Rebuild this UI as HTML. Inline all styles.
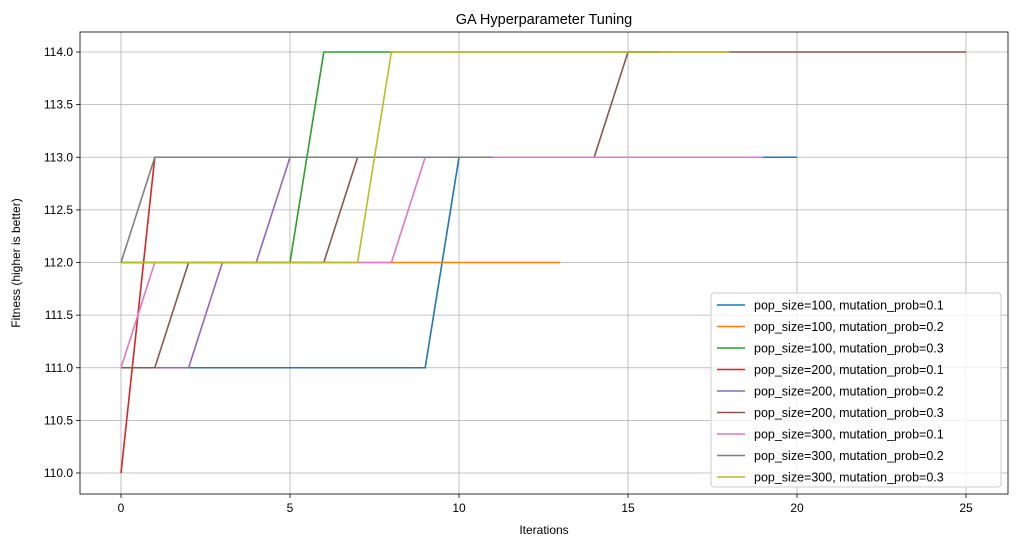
<!DOCTYPE html>
<html><head><meta charset="utf-8"><style>
body{margin:0;background:#fff;font-family:"Liberation Sans","DejaVu Sans",sans-serif;}
</style></head><body>
<svg id="chart" width="1019" height="547" xmlns="http://www.w3.org/2000/svg" font-family="Liberation Sans, DejaVu Sans, sans-serif"></svg>
<script>
const labels=["pop_size=100, mutation_prob=0.1","pop_size=100, mutation_prob=0.2","pop_size=100, mutation_prob=0.3","pop_size=200, mutation_prob=0.1","pop_size=200, mutation_prob=0.2","pop_size=200, mutation_prob=0.3","pop_size=300, mutation_prob=0.1","pop_size=300, mutation_prob=0.2","pop_size=300, mutation_prob=0.3"];
const colors=["#1f77b4","#ff7f0e","#2ca02c","#d62728","#9467bd","#8c564b","#e377c2","#7f7f7f","#bcbd22"];
const s1=[111,111,111,111,111,111,111,111,111,111,113,113,113,113,113,113,113,113,113,113,113];
const s2=[112,112,112,112,112,112,112,112,112,112,112,112,112,112];
const s3=[112,112,112,112,112,112,114,114,114,114,114,114,114,114,114,114,114];
const s4=[110,113,113,113,113,113,113,113,113,113,113];
const s5=[111,111,111,112,112,113,113,113,113,113,113,113,113];
const s6=[111,111,112,112,112,112,112,113,113,113,113,113,113,113,113,114,114,114,114,114,114,114,114,114,114,114];
const s7=[111,112,112,112,112,112,112,112,112,113,113,113,113,113,113,113,113,113,113,113];
const s8=[112,113,113,113,113,113,113,113,113,113,113,113];
const s9=[112,112,112,112,112,112,112,112,114,114,114,114,114,114,114,114,114,114,114];
const series=[s1,s2,s3,s4,s5,s6,s7,s8,s9];
const xTicks=[0,5,10,15,20,25];
const yTicks=[110.0,110.5,111.0,111.5,112.0,112.5,113.0,113.5,114.0];
const L=80,R=1008,T=32,B=494;
const X=v=>121+v*33.8;
const Y=v=>473-(v-110)*105.25;
const svg=document.getElementById('chart');
const NS="http://www.w3.org/2000/svg";
function mk(tag,attrs,parent){const e=document.createElementNS(NS,tag);for(const k in attrs)e.setAttribute(k,attrs[k]);(parent||svg).appendChild(e);return e;}
mk('rect',{x:0,y:0,width:1019,height:547,fill:'#fff'});
const grid=mk('g',{});


xTicks.forEach(t=>{mk('line',{x1:X(t),x2:X(t),y1:T,y2:B,stroke:'#b0b0b0','stroke-width':0.8},grid);
 mk('line',{x1:X(t),x2:X(t),y1:B,y2:B+4,stroke:'#000','stroke-width':0.8});
 const tx=mk('text',{x:X(t),y:B+18,'text-anchor':'middle','font-size':12,fill:'#000'});tx.textContent=t;
 
 });
yTicks.forEach(t=>{mk('line',{x1:L,x2:R,y1:Y(t),y2:Y(t),stroke:'#b0b0b0','stroke-width':0.8},grid);
 mk('line',{x1:L-4,x2:L,y1:Y(t),y2:Y(t),stroke:'#000','stroke-width':0.8});
 const tx=mk('text',{x:L-7,y:Y(t)+4,'text-anchor':'end','font-size':12,fill:'#000'});tx.textContent=t.toFixed(1);
 
 });
series.forEach((s,i)=>{const p=mk('polyline',{points:s.map((v,j)=>X(j)+','+Y(v)).join(' '),fill:'none',stroke:colors[i],'stroke-width':1.6});
 
 });
mk('rect',{x:L,y:T,width:R-L,height:B-T,fill:'none',stroke:'#000','stroke-width':0.8});
let t=mk('text',{x:(L+R)/2,y:24,'text-anchor':'middle','font-size':14.5});t.textContent='GA Hyperparameter Tuning';


t=mk('text',{x:(L+R)/2,y:534,'text-anchor':'middle','font-size':12});t.textContent='Iterations';


t=mk('text',{x:20,y:(T+B)/2,'text-anchor':'middle','font-size':12,transform:'rotate(-90 20 '+((T+B)/2)+')'});t.textContent='Fitness (higher is better)';


const lg=mk('g',{});


mk('rect',{x:711,y:293,width:290,height:194,rx:3,fill:'#fff','fill-opacity':0.8,stroke:'#ccc'},lg);
labels.forEach((lb,i)=>{const y=305+i*21.5;
 mk('line',{x1:717,x2:745,y1:y,y2:y,stroke:colors[i],'stroke-width':1.6},lg);
 const tx=mk('text',{x:754,y:y+4.5,'font-size':12.5},lg);tx.textContent=lb;
 
 });
</script>
</body></html>
